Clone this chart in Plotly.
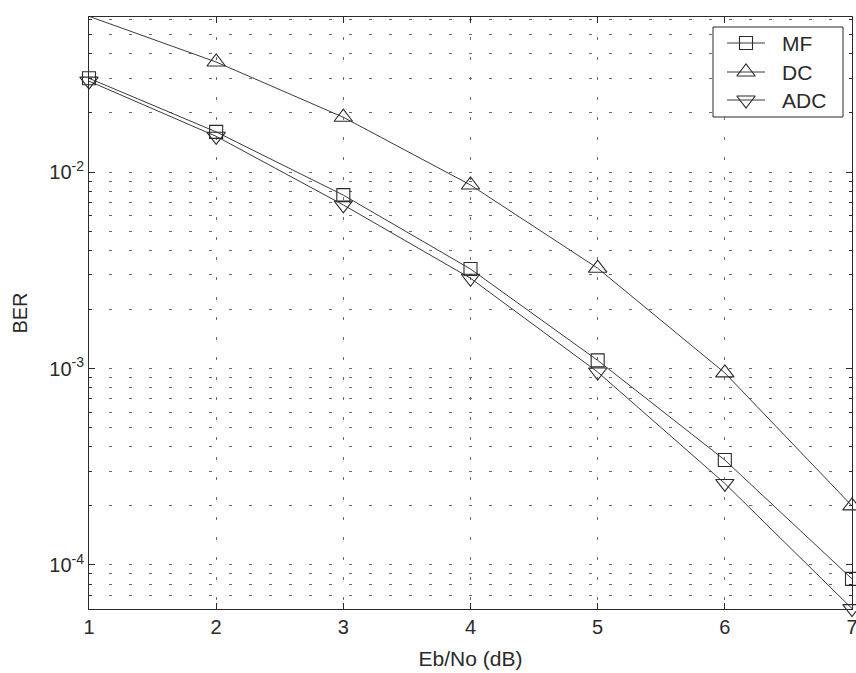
import numpy as np
import plotly.graph_objects as go

# Eb/No values (dB)
ebno = [1, 2, 3, 4, 5, 6, 7]

# Bit error rate for each receiver
ber_mf = [0.0300, 0.0160, 0.00763, 0.00321, 0.00110, 3.42e-4, 8.5e-5]
ber_dc = [0.0620, 0.0363, 0.0190, 0.00859, 0.00324, 9.5e-4, 2.0e-4]
ber_adc = [0.0290, 0.0152, 0.00680, 0.00288, 9.6e-4, 2.6e-4, 6.0e-5]

# Axis ticks
x_ticks = [1, 2, 3, 4, 5, 6, 7]
y_ticks = [1e-4, 1e-3, 1e-2]
y_tick_text = ["10<sup>-4</sup>", "10<sup>-3</sup>", "10<sup>-2</sup>"]
y_minor = [m * 10.0 ** k for k in range(-5, -1) for m in range(2, 10)]

FONT = "Liberation Sans, Arial, Helvetica, sans-serif"
INK = "#2a2a2a"
GRID = "#6a6a6a"
LINE = "#3a3a3a"

series = [
    ("MF", ber_mf, "square-open", 13),
    ("DC", ber_dc, "triangle-up-open", 16),
    ("ADC", ber_adc, "triangle-down-open", 16),
]

# Plot-area pixel frame used by the overlay axes that carry the legend box
PX_L, PX_R, PX_T, PX_B = 89, 852, 17, 609
LEG_BOX = (713, 843, 27, 117)
LEG_ROWS = [43, 72, 100]
LEG_LINE = (727, 765)
LEG_TEXT_X = 780

fig = go.Figure()
for name, ys, sym, sz in series:
    fig.add_trace(go.Scatter(
        x=ebno, y=ys, name=name, mode="lines+markers", showlegend=False,
        line=dict(color=LINE, width=1),
        marker=dict(symbol=sym, size=sz, color=INK,
                    line=dict(width=1.1, color=INK)),
        cliponaxis=False,
    ))

# Legend box (white fill hides the grid behind it)
bx0, bx1, by0, by1 = LEG_BOX
fig.add_trace(go.Scatter(
    x=[bx0, bx1, bx1, bx0, bx0], y=[by0, by0, by1, by1, by0],
    mode="lines", fill="toself", fillcolor="white",
    line=dict(color=INK, width=1), xaxis="x2", yaxis="y2",
    showlegend=False, hoverinfo="skip",
))

# Legend entries: sample line + marker + label per series
for (name, _, sym, sz), ry in zip(series, LEG_ROWS):
    fig.add_trace(go.Scatter(
        x=[LEG_LINE[0], LEG_LINE[1]], y=[ry, ry], mode="lines",
        line=dict(color=LINE, width=1), xaxis="x2", yaxis="y2",
        showlegend=False, hoverinfo="skip",
    ))
    fig.add_trace(go.Scatter(
        x=[(LEG_LINE[0] + LEG_LINE[1]) / 2], y=[ry], mode="markers",
        marker=dict(symbol=sym, size=sz, color=INK,
                    line=dict(width=1.1, color=INK)),
        xaxis="x2", yaxis="y2", showlegend=False, hoverinfo="skip",
    ))
    fig.add_annotation(
        x=LEG_TEXT_X, y=ry, xref="x2", yref="y2", text=name,
        showarrow=False, xanchor="left", yanchor="middle",
        font=dict(family=FONT, size=21, color=INK),
    )

fig.update_layout(
    width=856, height=673,
    margin=dict(l=PX_L, r=856 - PX_R, t=PX_T, b=673 - PX_B),
    paper_bgcolor="white", plot_bgcolor="white",
    font=dict(family=FONT, size=20, color=INK),
    showlegend=False,
    xaxis=dict(
        range=[1, 7], tickvals=x_ticks, ticks="inside", ticklen=6,
        tickcolor=INK, showline=True, linecolor=INK, linewidth=1,
        mirror="ticks",
        showgrid=True, gridcolor=GRID, gridwidth=1, griddash="3px,17px",
        zeroline=False, ticklabeloverflow="allow", automargin=False,
        title=dict(text="Eb/No (dB)", font=dict(size=21), standoff=14),
        tickfont=dict(size=20),
    ),
    yaxis=dict(
        type="log", range=[-4.224, -1.211],
        tickmode="array", tickvals=y_ticks, ticktext=y_tick_text,
        ticks="inside", ticklen=6, tickcolor=INK,
        showline=True, linecolor=INK, linewidth=1, mirror="ticks",
        showgrid=True, gridcolor=GRID, gridwidth=1, griddash="3px,17px",
        minor=dict(tickmode="array", tickvals=y_minor, ticks="inside",
                   ticklen=3, tickcolor=INK, showgrid=True, gridcolor=GRID,
                   gridwidth=1, griddash="3px,17px"),
        zeroline=False, ticklabeloverflow="allow", automargin=False,
        title=dict(text="BER", font=dict(size=20), standoff=16),
        tickfont=dict(size=20),
    ),
    xaxis2=dict(overlaying="x", anchor="y", range=[PX_L, PX_R],
                visible=False, fixedrange=True),
    yaxis2=dict(overlaying="y", anchor="x", range=[PX_B, PX_T],
                visible=False, fixedrange=True),
)

fig.write_html("out.html")
